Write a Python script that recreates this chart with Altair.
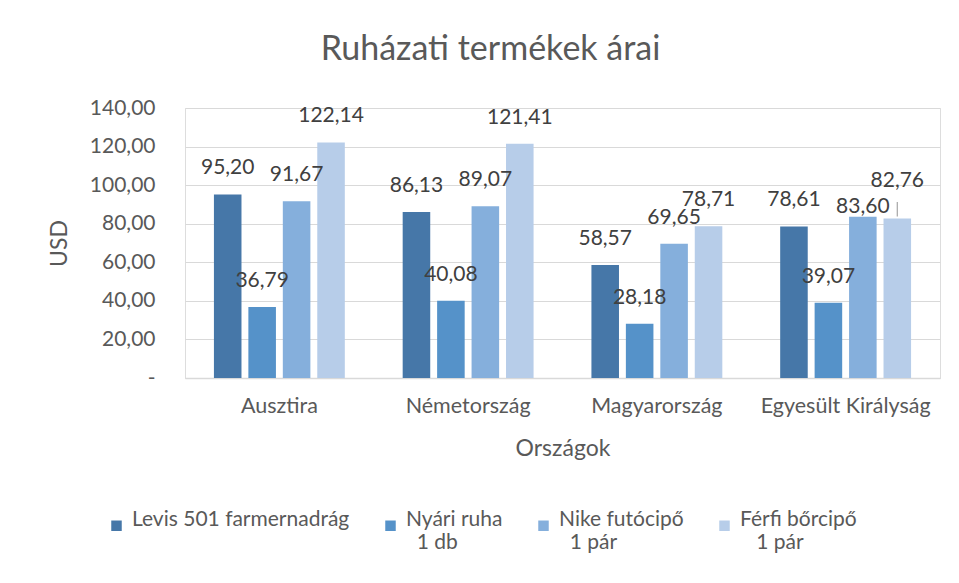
import altair as alt
import pandas as pd

countries = ["Ausztira", "Németország", "Magyarország", "Egyesült Királyság"]
series = [
    "Levis 501 farmernadrág\n\u200b",
    "Nyári ruha\n\u200b\u00a0\u00a01 db",
    "Nike futócipő\n\u200b\u00a0\u00a01 pár",
    "Férfi bőrcipő\n\u200b\u00a0\u00a0\u00a01 pár",
]
colors = ["#4677a8", "#5592c9", "#85afdc", "#b7cde9"]

levis = [95.20, 86.13, 58.57, 78.61]
nyari = [36.79, 40.08, 28.18, 39.07]
nike = [91.67, 89.07, 69.65, 83.60]
ferfi = [122.14, 121.41, 78.71, 82.76]

y_ticks = [0, 20, 40, 60, 80, 100, 120, 140]

rows = []
for si, (s, vals) in enumerate(zip(series, [levis, nyari, nike, ferfi])):
    for ci, (c, v) in enumerate(zip(countries, vals)):
        rows.append({"country": c, "series": s, "value": v, "si": si, "ci": ci})
df = pd.DataFrame(rows)

FONT = "Lato"
GRAY = "#595959"

# Excel moved two labels in the last group by hand; mirror that.
raised = "datum.ci == 3 && datum.si == 3"
lowered = "datum.ci == 3 && datum.si == 2"

y_scale = alt.Scale(domain=[0, 140])
y_axis = alt.Axis(
    title="USD",
    values=y_ticks,
    labelExpr="datum.value == 0 ? '-' : replace(format(datum.value, '.2f'), '.', ',')",
    labelFontSize=21,
    labelColor=GRAY,
    labelFont=FONT,
    labelPadding=30,
    labelOverlap=False,
    ticks=False,
    domain=False,
    gridColor="#d9d9d9",
    gridWidth=1.2,
    titleFontSize=23,
    titleColor=GRAY,
    titleFont=FONT,
    titleFontWeight="normal",
    titlePadding=18,
)

base = alt.Chart(df).transform_calculate(
    label="replace(format(datum.value, '.2f'), '.', ',')"
).encode(
    x=alt.X(
        "country:N",
        sort=countries,
        scale=alt.Scale(paddingInner=0.27, paddingOuter=0.135),
        axis=alt.Axis(
            title="Országok",
            labelAngle=0,
            labelFontSize=21.5,
            labelColor=GRAY,
            labelPadding=17,
            labelFont=FONT,
            labelOverlap=False,
            ticks=False,
            domainColor="#d9d9d9",
            domainWidth=1.5,
            titleFontSize=23,
            titleColor=GRAY,
            titleFont=FONT,
            titleFontWeight="normal",
            titlePadding=21,
        ),
    ),
    xOffset=alt.XOffset(
        "series:N", sort=series, scale=alt.Scale(paddingInner=0.2, paddingOuter=0.1)
    ),
    y=alt.Y("value:Q", scale=y_scale, axis=y_axis),
)

bars = base.mark_bar().encode(
    color=alt.Color(
        "series:N",
        sort=series,
        scale=alt.Scale(domain=series, range=colors),
        legend=alt.Legend(
            title=None,
            orient="none",
            legendX=-79,
            legendY=407,
            direction="horizontal",
            columns=4,
            symbolType="square",
            symbolSize=110,
            symbolStrokeWidth=0,
            labelFontSize=21,
            labelFont=FONT,
            labelColor=GRAY,
            labelExpr="split(datum.label, '\\n')",
            labelBaseline="alphabetic",
            labelOffset=5,
            columnPadding=30,
            labelLimit=400,
        ),
    )
)

text_style = dict(fontSize=21, font=FONT, color="#404040")
text_main = base.transform_filter(f"!({raised}) && !({lowered})").mark_text(
    dy=-26, **text_style
).encode(text="label:N")
text_raised = base.transform_filter(raised).mark_text(dy=-37, **text_style).encode(
    text="label:N"
)
text_lowered = base.transform_filter(lowered).mark_text(dy=-10, **text_style).encode(
    text="label:N"
)
leader = (
    base.transform_filter(raised)
    .transform_calculate(top="datum.value + 8.5", bottom="datum.value + 1")
    .mark_rule(color="#a6a6a6", strokeWidth=1.2)
    .encode(
        y=alt.Y("bottom:Q", scale=y_scale, axis=y_axis),
        y2="top:Q",
    )
)

chart = (
    alt.layer(bars, leader, text_main, text_raised, text_lowered)
    .properties(
        width=755,
        height=270,
        autosize=alt.AutoSizeParams(type="none"),
        padding={"left": 177, "top": 100, "right": 11, "bottom": 197},
        title=alt.Title(
            "Ruházati termékek árai",
            fontSize=34,
            font=FONT,
            color=GRAY,
            fontWeight="normal",
            anchor="middle",
            dx=-72,
            offset=30,
        ),
    )
    .configure_view(stroke=None)
    .configure(background="white")
)

chart.save("out.html", embed_options={"renderer": "svg", "actions": False})
